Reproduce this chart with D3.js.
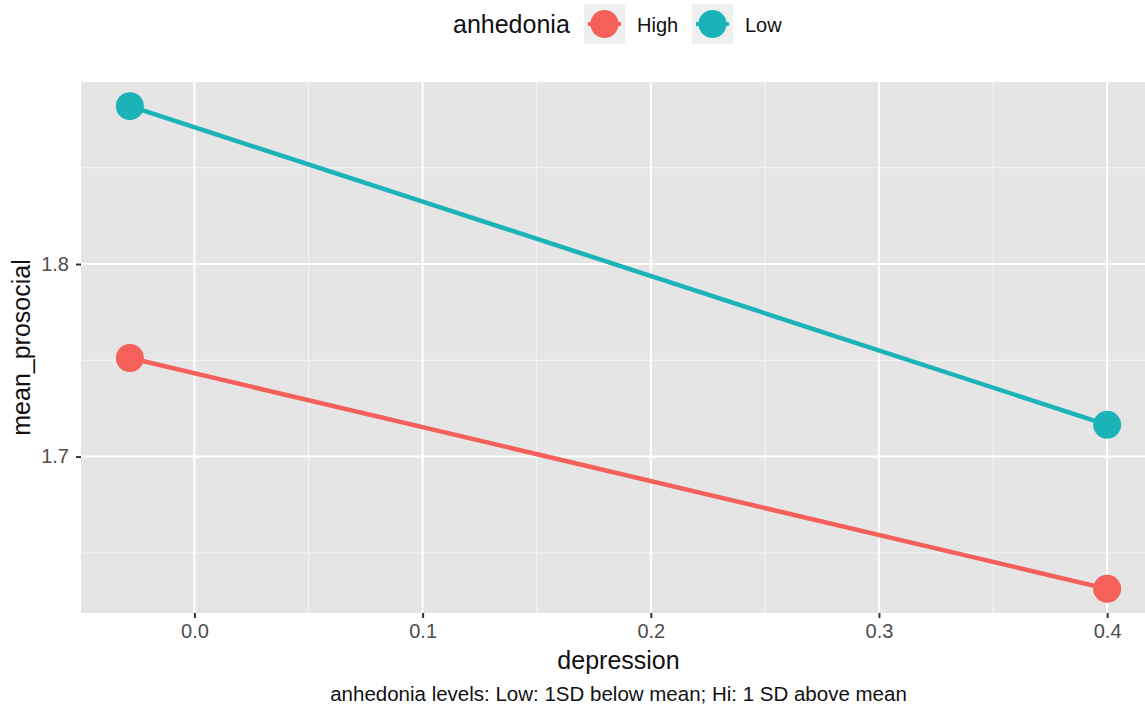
<!DOCTYPE html>
<html>
<head>
<meta charset="utf-8">
<script src="https://cdn.jsdelivr.net/npm/d3@7"></script>
<style>
  body { margin: 0; background: #fff; }
  text { font-family: "Liberation Sans", Arial, sans-serif; }
</style>
</head>
<body>
<svg id="mainsvg" width="1145" height="708"></svg>
<script>
// data
const groups = ['High', 'Low']
const groupColors = ['#F5605B', '#1BB3B8']
const depression = [-0.0283, 0.4]
const highValues = [1.7512, 1.6313]
const lowValues = [1.882, 1.7165]
const xTicks = [0.0, 0.1, 0.2, 0.3, 0.4]
const xMinor = [-0.05, 0.05, 0.15, 0.25, 0.35]
const yTicks = [1.7, 1.8]
const yMinor = [1.65, 1.75, 1.85]

const series = [
  {name: 'High', color: groupColors[0], values: highValues},
  {name: 'Low', color: groupColors[1], values: lowValues}
]

const svg = d3.select('#mainsvg')
const panel = {left: 81, top: 82, right: 1156, bottom: 613}

// ggplot style 5% expansion
let allY = highValues.concat(lowValues)
let xr = d3.extent(depression), yr = d3.extent(allY)
let xpad = (xr[1] - xr[0]) * 0.05, ypad = (yr[1] - yr[0]) * 0.05

const x = d3.scaleLinear().domain([xr[0] - xpad, xr[1] + xpad]).range([panel.left, panel.right])
const y = d3.scaleLinear().domain([yr[0] - ypad, yr[1] + ypad]).range([panel.bottom, panel.top])

svg.append('rect')
  .attr('x', panel.left).attr('y', panel.top)
  .attr('width', panel.right - panel.left).attr('height', panel.bottom - panel.top)
  .attr('fill', '#E5E5E5')

const grid = svg.append('g')
// minor grid
grid.selectAll('.xminor').data(xMinor.filter(d => x(d) > panel.left)).enter().append('line')
  .attr('x1', d => x(d)).attr('x2', d => x(d)).attr('y1', panel.top).attr('y2', panel.bottom)
  .attr('stroke', '#F5F5F5').attr('stroke-width', 1)
grid.selectAll('.yminor').data(yMinor).enter().append('line')
  .attr('y1', d => y(d)).attr('y2', d => y(d)).attr('x1', panel.left).attr('x2', panel.right)
  .attr('stroke', '#F5F5F5').attr('stroke-width', 1)
// major grid
grid.selectAll('.xmajor').data(xTicks).enter().append('line')
  .attr('x1', d => x(d)).attr('x2', d => x(d)).attr('y1', panel.top).attr('y2', panel.bottom)
  .attr('stroke', '#fff').attr('stroke-width', 2)
grid.selectAll('.ymajor').data(yTicks).enter().append('line')
  .attr('y1', d => y(d)).attr('y2', d => y(d)).attr('x1', panel.left).attr('x2', panel.right)
  .attr('stroke', '#fff').attr('stroke-width', 2)

// lines + points
const line = d3.line().x((d, i) => x(depression[i])).y(d => y(d))
series.forEach(s => {
  svg.append('path')
    .attr('d', line(s.values))
    .attr('fill', 'none')
    .attr('stroke', s.color)
    .attr('stroke-width', 4.5)
  svg.selectAll(null).data(s.values).enter().append('circle')
    .attr('cx', (d, i) => x(depression[i]))
    .attr('cy', d => y(d))
    .attr('r', 14)
    .attr('fill', s.color)
})

// axes
const xAxis = svg.append('g')
  .attr('transform', `translate(0,${panel.bottom})`)
  .call(d3.axisBottom(x).tickValues(xTicks).tickFormat(d3.format('.1f')).tickSize(5).tickPadding(6))
xAxis.select('.domain').remove()
xAxis.selectAll('line').attr('stroke', '#333').attr('stroke-width', 2)
xAxis.selectAll('text').attr('fill', '#4D4D4D').style('font-size', '20px').attr('font-family', null)

const yAxis = svg.append('g')
  .attr('transform', `translate(${panel.left},0)`)
  .call(d3.axisLeft(y).tickValues(yTicks).tickFormat(d3.format('.1f')).tickSize(5).tickPadding(7))
yAxis.select('.domain').remove()
yAxis.selectAll('line').attr('stroke', '#333').attr('stroke-width', 2)
yAxis.selectAll('text').attr('fill', '#4D4D4D').style('font-size', '20px').attr('font-family', null)

const cx = (panel.left + panel.right) / 2
svg.append('text')
  .attr('x', cx).attr('y', 669)
  .attr('text-anchor', 'middle')
  .attr('fill', '#111')
  .style('font-size', '25px')
  .text('depression')

svg.append('text')
  .attr('transform', `translate(30,${(panel.top + panel.bottom) / 2}) rotate(-90)`)
  .attr('text-anchor', 'middle')
  .attr('fill', '#111')
  .style('font-size', '25px')
  .text('mean_prosocial')

svg.append('text')
  .attr('x', cx).attr('y', 701)
  .attr('text-anchor', 'middle')
  .attr('fill', '#111')
  .style('font-size', '20.5px')
  .text('anhedonia levels: Low: 1SD below mean; Hi: 1 SD above mean')

// legend
const legend = svg.append('g')
legend.append('text')
  .attr('x', 453).attr('y', 33)
  .attr('fill', '#111')
  .style('font-size', '25px')
  .text('anhedonia')
const keyX = [584, 692]
groups.forEach((gname, i) => {
  legend.append('rect')
    .attr('x', keyX[i]).attr('y', 4).attr('width', 41).attr('height', 40)
    .attr('fill', '#EFEFEF')
  legend.append('line')
    .attr('x1', keyX[i] + 4).attr('x2', keyX[i] + 37).attr('y1', 24).attr('y2', 24)
    .attr('stroke', groupColors[i]).attr('stroke-width', 4)
  legend.append('circle')
    .attr('cx', keyX[i] + 20.5).attr('cy', 24).attr('r', 14)
    .attr('fill', groupColors[i])
  legend.append('text')
    .attr('x', keyX[i] + 53).attr('y', 32)
    .attr('fill', '#111')
    .style('font-size', '20px')
    .text(gname)
})
</script>
</body>
</html>
